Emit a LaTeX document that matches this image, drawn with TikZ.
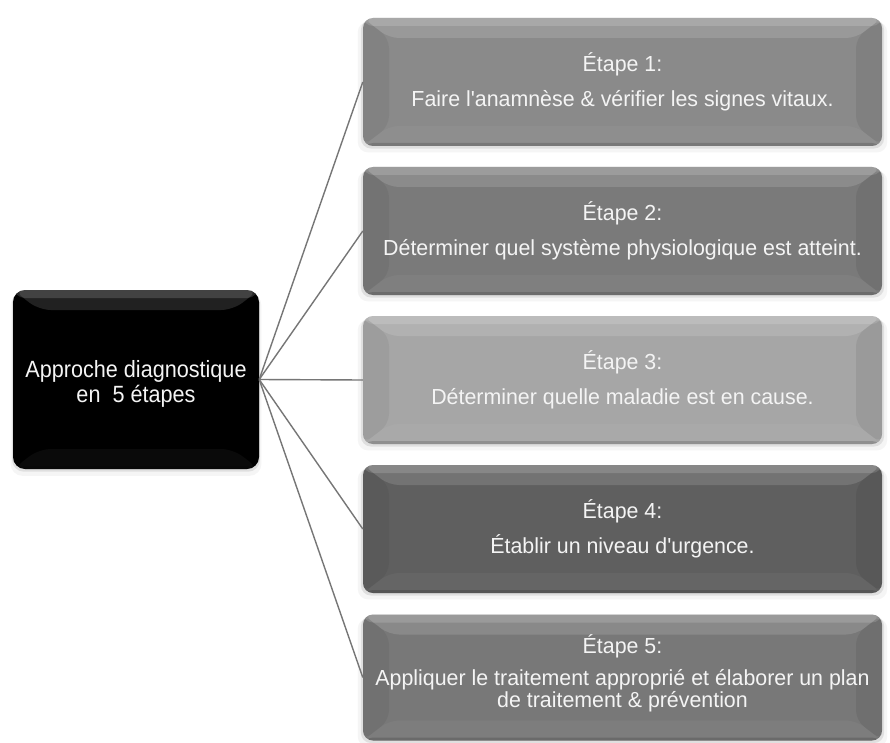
\documentclass[tikz,border=0pt]{standalone}
\usepackage{fontspec}
\setmainfont{Liberation Sans}[FakeStretch=0.98,Ligatures=TeXOff]
\newfontfamily\leftfont{Liberation Sans}[FakeStretch=0.92,Ligatures=TeXOff]
\usetikzlibrary{shadows}
\definecolor{cA}{HTML}{8A8A8A}
\definecolor{cB}{HTML}{7A7A7A}
\definecolor{cC}{HTML}{A6A6A6}
\definecolor{cD}{HTML}{5F5F5F}
\definecolor{cE}{HTML}{787878}
\definecolor{txt}{HTML}{F4F4F4}
\definecolor{lin}{HTML}{767676}
\tikzset{
  bevel/.style={path picture={
    \coordinate (nw) at (path picture bounding box.north west);
    \coordinate (ne) at (path picture bounding box.north east);
    \coordinate (sw) at (path picture bounding box.south west);
    \coordinate (se) at (path picture bounding box.south east);
    \fill[white,opacity=.13] (nw) -- (ne) -- ([xshift=-26pt,yshift=-20pt]ne) -- ([xshift=26pt,yshift=-20pt]nw) -- cycle;
    \fill[white,opacity=.15] (nw) rectangle ([yshift=-8pt]ne);
    \fill[black,opacity=.05] (nw) -- ([xshift=26pt,yshift=-20pt]nw) -- ([xshift=26pt,yshift=20pt]sw) -- (sw) -- cycle;
    \fill[black,opacity=.07] (ne) -- ([xshift=-26pt,yshift=-20pt]ne) -- ([xshift=-26pt,yshift=20pt]se) -- (se) -- cycle;
    \fill[white,opacity=.04] (sw) -- ([xshift=26pt,yshift=20pt]sw) -- ([xshift=-26pt,yshift=20pt]se) -- (se) -- cycle;
    \fill[black,opacity=.15] (sw) rectangle ([yshift=3pt]se);
  }},
  softshadow/.style={
    drop shadow={shadow xshift=0pt,shadow yshift=-2pt,opacity=.18,shadow scale=1.008},
    drop shadow={shadow xshift=0pt,shadow yshift=-5pt,opacity=.08,shadow scale=1.02}},
  stepbox/.style={draw=none,rounded corners=10pt,minimum width=519pt,minimum height=128pt,
    inner sep=0pt,align=center,text=txt,softshadow,bevel,
    font=\fontsize{21.8}{24}\selectfont},
  mainbox/.style={draw=none,rounded corners=12pt,minimum width=246pt,minimum height=179pt,
    inner sep=0pt,align=center,text=txt,fill=black,softshadow,bevel,
    font=\leftfont\fontsize{23.5}{25}\selectfont},
  conn/.style={draw=lin,line width=1.4pt}
}
\begin{document}
\begin{tikzpicture}[x=1pt,y=-1pt]
\useasboundingbox[fill=white] (0,0) rectangle (890,743);
\node[mainbox] (m) at (136,379.5) {\rule{0pt}{25pt}Approche diagnostique\\en~ 5 étapes};
\node[stepbox,fill=cA] (s1) at (622.5,82) {Étape 1:\\[10.5pt]Faire l'anamnèse \& vérifier les signes vitaux.};
\node[stepbox,fill=cB] (s2) at (622.5,231) {Étape 2:\\[10.5pt]Déterminer quel système physiologique est atteint.};
\node[stepbox,fill=cC] (s3) at (622.5,380) {Étape 3:\\[10.5pt]Déterminer quelle maladie est en cause.};
\node[stepbox,fill=cD] (s4) at (622.5,529) {Étape 4:\\[10.5pt]Établir un niveau d'urgence.};
\node[stepbox,fill=cE,minimum height=126pt,font=\fontsize{21.8}{22}\selectfont] (s5) at (622.5,677.5) {Étape 5:\\[9.4pt]Appliquer le traitement approprié et élaborer un plan\\de traitement \& prévention\rule[-13pt]{0pt}{1pt}};
\draw[conn] (m.east) -- (s1.west);
\draw[conn] (m.east) -- (s2.west);
\draw[conn] (m.east) -- (s3.west);
\draw[conn] (m.east) -- (s4.west);
\draw[conn] (m.east) -- (s5.west);
\end{tikzpicture}
\end{document}
